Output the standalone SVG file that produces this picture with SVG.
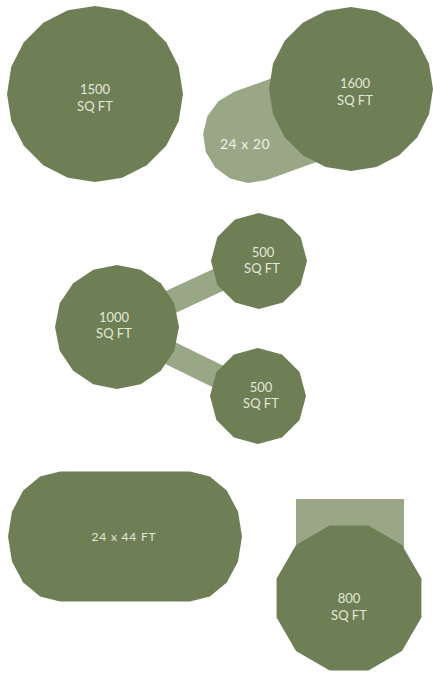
<svg xmlns="http://www.w3.org/2000/svg" width="433" height="675" viewBox="0 0 433 675">
<style>
.dark{fill:#6e7f56}
.light{fill:#99a786}
.t{font-family:Lato,"Open Sans","Liberation Sans",sans-serif;font-size:13px;fill:#e2e7d8;text-anchor:middle}
.tl{font-family:Lato,"Open Sans","Liberation Sans",sans-serif;font-size:14px;fill:#eef1e8;text-anchor:middle;letter-spacing:0.5px}
</style>
<rect width="433" height="675" fill="#ffffff"/>
<g id="connectors">
<polygon class="light" points="265.9,180.2 247.8,183.0 230.0,178.5 215.2,167.6 205.8,151.9 203.1,133.8 207.5,116.0 218.4,101.2 234.1,91.8 334.1,55.8 365.9,144.2"/>
<polygon class="light" points="112,316.1 254,250.1 264,271.9 122,337.9"/>
<polygon class="light" points="122.3,316.2 263.3,385.2 252.7,406.8 111.7,337.8"/>
<rect class="light" x="296" y="499" width="108" height="70"/>
</g>
<g id="node-1500">
<polygon class="dark" points="183,94 178.7,121.2 166.2,145.7 146.7,165.2 122.2,177.7 95,182 67.8,177.7 43.3,165.2 23.8,145.7 11.3,121.2 7,94 11.3,66.8 23.8,42.3 43.3,22.8 67.8,10.3 95,6 122.2,10.3 146.7,22.8 166.2,42.3 178.7,66.8"/>
<text class="t" x="95" y="94">1500</text>
<text class="t" x="95" y="111">SQ FT</text>
</g>
<g id="node-1600">
<polygon class="dark" points="433,89 429,114.3 417.3,137.2 399.2,155.3 376.3,167 351,171 325.7,167 302.8,155.3 284.7,137.2 273,114.3 269,89 273,63.7 284.7,40.8 302.8,22.7 325.7,11 351,7 376.3,11 399.2,22.7 417.3,40.8 429,63.7"/>
<text class="t" x="355" y="88">1600</text>
<text class="t" x="355" y="105">SQ FT</text>
</g>
<g id="node-24x20">
<text class="tl" x="245" y="149">24 x 20</text>
</g>
<g id="node-1000">
<polygon class="dark" points="179,327 174.3,350.7 160.8,370.8 140.7,384.3 117,389 93.3,384.3 73.2,370.8 59.7,350.7 55,327 59.7,303.3 73.2,283.2 93.3,269.7 117,265 140.7,269.7 160.8,283.2 174.3,303.3"/>
<text class="t" x="114" y="322">1000</text>
<text class="t" x="114" y="338">SQ FT</text>
</g>
<g id="node-500a">
<polygon class="dark" points="307,261 300.6,285 283,302.6 259,309 235,302.6 217.4,285 211,261 217.4,237 235,219.4 259,213 283,219.4 300.6,237"/>
<text class="t" x="263" y="257">500</text>
<text class="t" x="262" y="273">SQ FT</text>
</g>
<g id="node-500b">
<polygon class="dark" points="306,396 299.6,420 282,437.6 258,444 234,437.6 216.4,420 210,396 216.4,372 234,354.4 258,348 282,354.4 299.6,372"/>
<text class="t" x="261" y="392">500</text>
<text class="t" x="261" y="408">SQ FT</text>
</g>
<g id="node-24x44">
<polygon class="dark" points="60,601.5 40.1,596.6 23.2,582.5 12.0,561.4 8,536.5 12.0,511.6 23.2,490.5 40.1,476.4 60,471.5 190,471.5 209.9,476.4 226.8,490.5 238.0,511.6 242,536.5 238.0,561.4 226.8,582.5 209.9,596.6 190,601.5"/>
<text class="t" x="124" y="541" style="font-size:12px;letter-spacing:0.8px">24 x 44 FT</text>
</g>
<g id="node-800">
<polygon class="dark" points="421.4,617.4 402.0,651.0 368.4,670.4 329.6,670.4 296.0,651.0 276.6,617.4 276.6,578.6 296.0,545.0 329.6,525.6 368.4,525.6 402.0,545.0 421.4,578.6"/>
<text class="t" x="349" y="603">800</text>
<text class="t" x="349" y="620">SQ FT</text>
</g>
</svg>
